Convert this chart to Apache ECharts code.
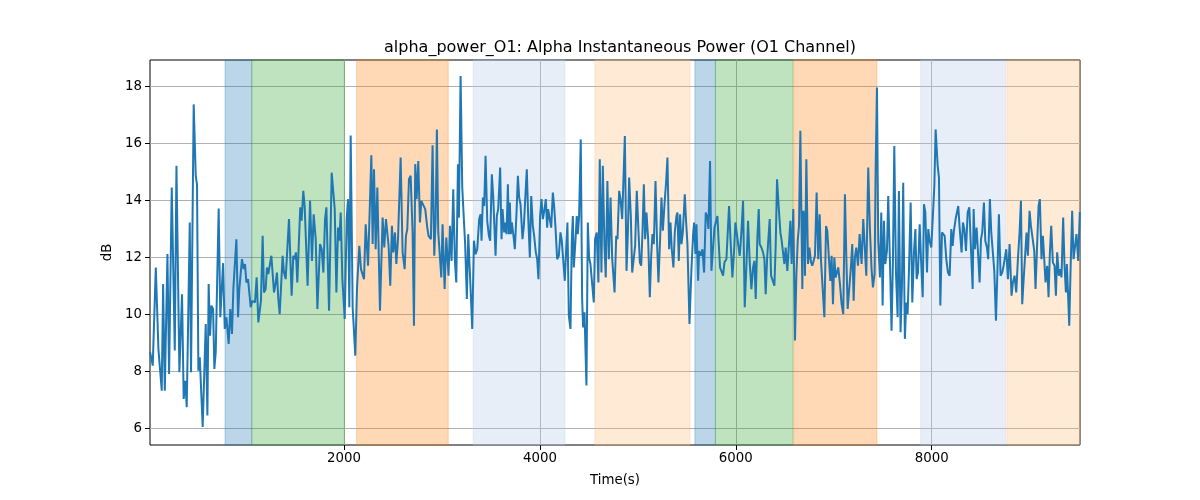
<!DOCTYPE html>
<html>
<head>
<meta charset="utf-8">
<script src="https://cdn.jsdelivr.net/npm/echarts@6/dist/echarts.min.js"></script>
<style>html,body{margin:0;padding:0;background:#fff}#c{width:1200px;height:500px}</style>
</head>
<body>
<div id="c"></div>
<script>
const titleText = 'alpha_power_O1: Alpha Instantaneous Power (O1 Channel)';
const xLabel = 'Time(s)';
const yLabel = 'dB';
const xTicks = [2000, 4000, 6000, 8000];
const yTicks = [6, 8, 10, 12, 14, 16, 18];

const times = [20,47,78,105,139,153,170,197,214,241,272,289,319,346,363,380,394,425,438,465,486,499,513,527,557,588,605,618,632,646,663,676,690,720,737,754,765,782,799,822,839,856,870,887,901,918,931,958,975,989,1003,1020,1047,1064,1091,1108,1125,1152,1169,1183,1200,1213,1227,1244,1258,1285,1298,1315,1329,1343,1373,1387,1404,1438,1465,1482,1496,1509,1523,1553,1567,1584,1598,1628,
1653,1673,1690,1711,1728,1755,1772,1789,1806,1820,1847,1874,1905,1922,1939,1952,1966,1983,2007,2027,2041,2054,2068,2088,2115,2132,2156,2173,2190,2204,2221,2245,2265,2279,2292,2306,2323,2340,2367,2394,2411,2428,2442,2455,2472,2489,2503,2520,2534,2551,2578,2598,2619,2632,2646,2663,2680,2700,2714,2727,2741,2758,2775,2789,2809,2829,2850,2863,2877,2887,2904,2921,2935,2948,2962,2979,2993,3006,3027,3044,3057,3067,3081,3098,3115,3132,3146,3163,
3173,3190,3207,3220,3237,3254,3268,3285,3309,3326,3343,3360,3380,3394,3404,3418,3431,3445,3462,3479,3492,3509,3523,3547,3560,3574,3594,3608,3618,3635,3645,3659,3673,3683,3693,3703,3713,3730,3744,3761,3775,3788,3802,3822,3836,3849,3866,3880,3897,3911,3928,3941,3958,3972,3985,4002,4016,4030,4047,4060,4074,4084,4101,4115,4132,4145,4159,4176,4193,4210,4223,4237,4254,4268,4281,4295,4312,4325,4336,4346,4363,4376,4387,4400,4417,4431,4441,4455,4465,4475,4489,4502,4516,4529,4550,4563,4580,4597,4611,4628,4642,4659,4672,4689,
4704,4721,4738,4762,4779,4792,4809,4823,4840,4867,4884,4898,4911,4928,4942,4959,4972,4989,5006,5020,5034,5047,5061,5074,5088,5105,5122,5136,5149,5163,5180,5197,5210,5227,5241,5255,5272,5289,5302,5319,5333,5346,5363,5377,5394,5404,5418,5431,5445,5459,5479,5493,5506,5527,5547,5564,5574,5588,5598,5615,5625,5642,5659,5676,5693,5710,5720,5737,5751,5768,5782,5795,5812,5826,5839,5856,5870,5884,5904,5918,5931,5948,5965,5982,5996,6009,6026,6040,6057,6074,6091,6108,6125,6142,6159,6176,6190,6203,6220,6234,
6244,6261,6278,6292,6305,6319,6332,6346,6360,6380,6394,6407,6421,6438,6455,6468,6482,6496,6509,6526,6543,6557,6570,6587,6604,6618,6632,6645,6659,6679,6689,6700,6706,6720,6737,6751,6768,6781,6795,6808,6825,6842,6856,6870,6887,6904,6921,6934,6951,6965,6978,6992,7006,7019,7033,7046,7063,7080,7097,7114,7128,7142,7159,7176,7189,7203,7216,7230,7247,7264,7284,7301,7318,7332,7352,7369,7386,7400,7417,7427,7441,7454,7471,7485,7499,7512,7526,7543,7556,7573,7590,7604,7618,7635,7652,7665,7682,7696,7709,7726,7740,7754,
7768,7785,7802,7819,7833,7846,7860,7877,7891,7908,7921,7935,7952,7965,7979,7996,8010,8027,8040,8061,8074,8088,8105,8118,8132,8149,8166,8183,8200,8214,8227,8244,8258,8271,8285,8305,8319,8333,8350,8367,8384,8401,8418,8428,8441,8458,8472,8489,8503,8516,8533,8547,8564,8577,8594,8608,8622,8639,8656,8673,8686,8703,8720,8734,8751,8761,8778,8795,8815,8829,8846,8863,8880,8897,8911,8924,8938,8951,8968,8982,8999,9013,9033,9047,9060,9074,9091,9104,9121,9135,9149,9162,9179,9193,9206,9220,9237,9254,9268,9281,9298,9312,9325,9342,9356,9370,9380,9390,9404,9417,9434,9448,9465,9478,9496,9512];

const values = [8.67,8.20,11.65,8.78,7.32,11.07,7.32,12.12,7.91,14.46,8.73,15.22,7.97,10.71,7.03,7.67,6.74,13.23,7.97,17.38,14.87,14.57,8.02,8.49,6.04,9.66,6.45,11.07,9.25,10.31,10.19,8.08,8.67,13.72,9.90,9.95,11.80,9.49,9.90,8.96,10.19,9.31,10.89,10.83,12.64,9.90,10.89,11.94,11.59,11.77,11.12,11.24,10.25,10.48,10.42,11.30,9.72,10.48,12.76,10.77,10.89,11.65,11.42,11.47,12.06,10.77,11.01,11.47,10.54,10.01,12.06,11.47,11.24,13.35,10.66,12.06,11.94,12.18,11.12,13.76,13.29,14.34,13.81,11.01,
13.99,11.88,13.52,12.64,10.19,12.47,12.29,11.47,13.35,13.76,10.13,14.98,13.70,10.77,13.05,12.59,13.58,11.24,9.84,13.35,14.05,10.25,16.29,10.25,8.55,10.89,12.41,11.59,11.59,11.24,13.17,11.71,11.71,15.59,12.47,15.10,12.29,14.46,10.13,13.40,12.35,13.35,13.35,12.41,11.01,13.11,12.18,12.88,11.77,12.64,15.51,12.18,11.59,12.76,13.00,14.75,14.87,12.88,9.60,15.28,14.05,15.39,13.23,13.99,14.05,13.70,13.05,12.76,12.76,12.64,15.94,12.06,13.29,16.50,12.88,12.94,11.30,13.17,10.89,12.70,12.76,11.36,13.11,11.88,14.40,11.88,11.12,15.28,
13.40,18.38,14.46,14.40,12.41,10.54,12.82,11.47,9.49,12.59,12.12,12.29,13.35,13.52,12.59,14.11,13.81,15.57,13.29,12.76,12.59,14.92,14.16,12.06,13.46,13.70,15.16,12.64,13.70,12.88,13.23,12.82,14.57,12.82,13.93,12.82,13.23,12.76,12.29,13.58,14.87,14.11,13.87,12.64,13.11,13.99,15.10,13.46,12.00,14.16,13.11,12.76,12.18,11.94,11.24,13.46,14.05,13.35,13.70,14.05,13.05,13.70,13.64,13.05,14.28,13.81,13.05,11.94,12.06,12.88,12.59,12.64,11.18,12.29,13.23,9.95,9.49,12.53,13.46,11.65,12.59,13.46,12.82,13.46,16.15,10.54,9.54,10.07,10.01,7.50,13.23,12.00,11.77,11.24,10.42,12.64,12.88,11.12,15.45,11.47,15.22,12.41,11.30,14.69,
11.94,14.11,11.94,10.77,12.76,12.64,14.34,14.05,13.35,16.27,11.53,12.88,14.81,13.46,11.47,11.47,12.41,14.34,12.94,11.83,11.71,12.88,14.57,12.64,13.58,12.64,10.60,12.06,12.82,12.47,14.69,12.41,11.12,12.64,14.11,12.94,13.87,14.69,15.51,12.29,13.23,12.29,11.65,12.88,13.46,13.58,11.88,13.52,12.47,12.88,14.22,13.23,12.47,9.66,11.59,12.82,13.23,12.12,13.17,11.18,12.23,12.06,12.29,11.47,13.58,13.40,13.00,15.39,11.53,11.53,13.05,13.11,13.46,12.47,11.65,11.65,11.36,11.83,11.94,11.88,13.81,12.47,11.30,12.23,13.23,13.23,12.41,12.06,12.88,13.99,10.25,11.71,13.29,11.83,10.89,11.65,11.88,10.54,12.70,13.70,
12.47,12.35,12.18,11.94,10.71,11.94,12.00,13.35,11.36,11.30,11.01,12.41,14.75,13.76,12.88,12.59,12.64,11.77,12.35,11.53,11.59,13.29,11.77,13.70,9.08,11.36,12.59,13.11,16.45,10.89,13.64,13.46,11.36,15.45,11.77,12.35,11.83,11.71,11.65,12.06,14.28,11.94,13.52,11.88,11.94,9.90,13.11,12.94,11.94,11.18,12.06,10.36,12.00,11.30,11.36,11.65,11.07,10.36,10.01,14.22,12.06,10.19,10.25,11.71,12.47,10.48,12.00,12.35,11.71,12.82,11.77,13.35,13.35,11.36,15.16,13.00,11.59,10.95,11.42,14.98,17.97,12.59,11.30,13.58,10.31,13.29,11.77,12.23,14.16,11.94,9.43,11.88,15.92,11.47,9.90,14.34,9.37,11.01,14.63,9.14,10.42,10.01,
11.59,13.93,10.42,12.18,13.00,11.24,11.47,13.17,11.94,10.60,13.87,13.58,11.47,13.00,12.59,12.35,12.41,14.52,16.50,15.22,14.81,10.31,12.88,12.88,12.76,11.94,11.47,11.36,13.00,12.41,12.94,13.35,13.35,13.81,13.05,12.18,13.23,13.00,12.23,13.58,13.76,12.29,10.89,13.70,12.29,13.05,12.23,11.12,12.64,12.88,13.93,12.59,12.35,11.94,14.05,12.88,12.94,11.53,9.78,11.77,13.52,11.36,11.47,11.71,12.06,12.29,11.24,12.47,10.66,11.12,11.36,10.77,11.94,12.88,13.99,10.36,11.18,11.24,12.88,12.06,13.64,13.11,13.11,12.23,10.89,12.23,13.81,14.05,11.94,12.76,11.94,11.12,11.71,10.60,12.12,13.11,11.83,11.71,10.66,12.18,11.36,11.59,11.30,13.40,11.71,10.77,11.77,10.89,9.60,11.47,13.64,11.94,12.00,12.82,11.88,13.60];

const bandStart = [785, 1058, 2129, 3319, 4561, 5582, 5792, 6591, 7888, 8768];
const bandEnd   = [1058, 2003, 3064, 4255, 5531, 5792, 6584, 7441, 8755, 9514];
const bandKind  = ['blue', 'green', 'orange', 'lightblue', 'lightorange', 'blue', 'green', 'orange', 'lightblue', 'lightorange'];

const kindColor = {
  blue: 'rgba(31,119,180,0.3)',
  green: 'rgba(44,160,44,0.3)',
  orange: 'rgba(255,127,14,0.3)',
  lightblue: 'rgba(174,199,232,0.3)',
  lightorange: 'rgba(255,187,120,0.3)'
};

const lineData = times.map((t, i) => [t, values[i]]);
const areas = bandStart.map((s, i) => [
  { xAxis: s, itemStyle: { color: kindColor[bandKind[i]], borderColor: kindColor[bandKind[i]], borderWidth: 1 } },
  { xAxis: bandEnd[i] }
]);

const font = 'DejaVu Sans';
const chart = echarts.init(document.getElementById('c'), null, { renderer: 'canvas' });
chart.setOption({
  animation: false,
  backgroundColor: '#fff',
  title: {
    text: titleText, left: 615, top: 35, textAlign: 'center',
    textStyle: { fontFamily: font, fontSize: 16, fontWeight: 'normal', color: '#000' }
  },
  grid: { left: 150, right: 120, top: 60, bottom: 55, show: true, borderColor: '#000', borderWidth: 1, backgroundColor: 'transparent' },
  xAxis: {
    type: 'value', min: 19, max: 9514,
    name: xLabel, nameLocation: 'middle', nameGap: 29,
    nameTextStyle: { fontFamily: font, fontSize: 13.33, color: '#000' },
    axisLine: { show: false },
    axisTick: { show: true, length: 5, lineStyle: { color: '#000' }, customValues: xTicks },
    axisLabel: { fontFamily: font, fontSize: 13.33, color: '#000', margin: 7, customValues: xTicks, formatter: v => String(v) },
    splitLine: { show: true, lineStyle: { color: '#b0b0b0', width: 1 } }
  },
  yAxis: {
    type: 'value', min: 5.41, max: 18.94,
    name: yLabel, nameLocation: 'middle', nameGap: 31, nameRotate: 90,
    nameTextStyle: { fontFamily: font, fontSize: 13.33, color: '#000' },
    axisLine: { show: false },
    axisTick: { show: true, length: 5, lineStyle: { color: '#000' }, customValues: yTicks },
    axisLabel: { fontFamily: font, fontSize: 13.33, color: '#000', margin: 8, customValues: yTicks, formatter: v => String(v) },
    splitLine: { show: true, lineStyle: { color: '#b0b0b0', width: 1 } }
  },
  series: [
    {
      type: 'line', data: [], z: 1, silent: true,
      markArea: { silent: true, data: areas }
    },
    {
      type: 'line', data: lineData, z: 3, symbol: 'none', showSymbol: false,
      lineStyle: { color: '#1f77b4', width: 2 }, clip: true
    }
  ]
});
</script>
</body>
</html>
